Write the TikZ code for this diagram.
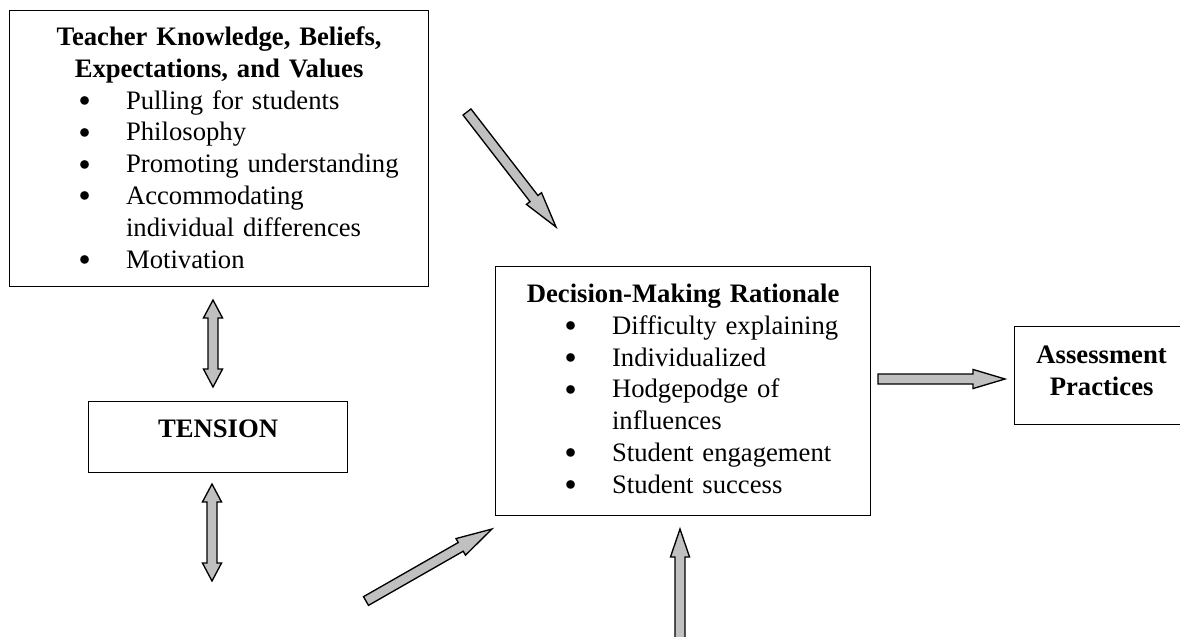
\documentclass[tikz,border=0pt]{standalone}
\usepackage{fontspec}
\setmainfont{Liberation Serif}
\usetikzlibrary{calc}
\definecolor{arrowgray}{RGB}{192,192,192}
\newcommand\arrowshaft{2.25pt}
\newcommand\arrowbarb{4.3pt}
\newcommand\bulletitem{\par\hangindent=52.4pt\hangafter=1\leavevmode
  \hbox to 52.4pt{\hskip 31.3pt{\fontsize{10}{12}\selectfont\raisebox{1.2pt}{$\bullet$}}\hss}}
\newcommand\blockarrow[3]{%
  \coordinate (ba-h) at ($(#2)!#3!(#1)$);
  \draw [block arrow] ($(#1)!\arrowshaft!90:(#2)$) -- ($(ba-h)!\arrowshaft!90:(#2)$)
    -- ($(ba-h)!\arrowbarb!90:(#2)$) -- (#2) -- ($(ba-h)!\arrowbarb!-90:(#2)$)
    -- ($(ba-h)!\arrowshaft!-90:(#2)$) -- ($(#1)!\arrowshaft!-90:(#2)$) -- cycle;}
\newcommand\doublearrow[3]{%
  \coordinate (ba-a) at ($(#1)!#3!(#2)$);
  \coordinate (ba-b) at ($(#2)!#3!(#1)$);
  \draw [block arrow] (#1) -- ($(ba-a)!\arrowbarb!90:(#2)$) -- ($(ba-a)!\arrowshaft!90:(#2)$)
    -- ($(ba-b)!\arrowshaft!90:(#2)$) -- ($(ba-b)!\arrowbarb!90:(#2)$) -- (#2)
    -- ($(ba-b)!\arrowbarb!-90:(#2)$) -- ($(ba-b)!\arrowshaft!-90:(#2)$)
    -- ($(ba-a)!\arrowshaft!-90:(#2)$) -- ($(ba-a)!\arrowbarb!-90:(#2)$) -- cycle;}
\begin{document}
\begin{tikzpicture}[x=0.45pt,y=-0.45pt]
      \tikzset{concept box/.style={draw,
          line width=0.55pt,
          inner sep=0pt,
          anchor=north west,
          font=\fontsize{12}{14.3}\selectfont},
        block arrow/.style={draw=black, fill=arrowgray, line width=0.6pt, line join=miter}
      }
      \useasboundingbox (0,0) rectangle (1180,636);

      \node [concept box, text width=188.55pt, text height=15.75pt, text depth=108.45pt] (teacher) at (9,10)
        {{\centering\bfseries Teacher Knowledge, Beliefs,\\ Expectations, and Values\par}\raggedright
         \bulletitem Pulling for students
         \bulletitem Philosophy
         \bulletitem Promoting understanding
         \bulletitem Accommodating\newline individual differences
         \bulletitem Motivation\par};
      \node [concept box, text width=116.55pt, text height=16.2pt, text depth=15.75pt] (tension) at (88,401)
        {\centering\bfseries TENSION\par};
      \node [concept box, text width=168.75pt, text height=16.2pt, text depth=95.85pt] (decision) at (495,266)
        {{\centering\bfseries Decision-Making Rationale\par}\raggedright
         \bulletitem Difficulty explaining
         \bulletitem Individualized
         \bulletitem Hodgepodge of\newline influences
         \bulletitem Student engagement
         \bulletitem Student success\par};
      \node [concept box, text width=78.3pt, text height=16.65pt, text depth=27.45pt] (practices) at (1014,326)
        {\centering\bfseries Assessment\\ Practices\par};

      \coordinate (T1) at (213,300);
      \coordinate (T2) at (213,387);
      \coordinate (T3) at (212,484);
      \coordinate (T4) at (212,581);
      \coordinate (D1) at (467,112);
      \coordinate (D2) at (556,227);
      \coordinate (E1) at (366,601);
      \coordinate (E2) at (492,529);
      \coordinate (U1) at (680,642);
      \coordinate (U2) at (680,529);
      \coordinate (P1) at (878,379);
      \coordinate (P2) at (1005,379);

      \doublearrow{T1}{T2}{8.1pt}
      \doublearrow{T3}{T4}{8.1pt}
      \blockarrow{D1}{D2}{16.2pt}
      \blockarrow{E1}{E2}{16.2pt}
      \blockarrow{U1}{U2}{12.6pt}
      \blockarrow{P1}{P2}{14.4pt}

    \end{tikzpicture}
\end{document}
